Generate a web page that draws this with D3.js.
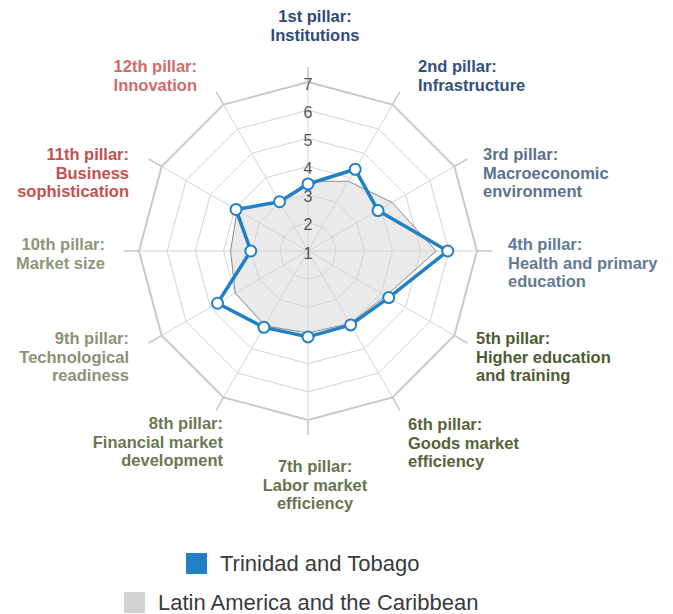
<!DOCTYPE html>
<html>
<head>
<meta charset="utf-8">
<script src="https://cdn.jsdelivr.net/npm/d3@7"></script>
<style>
  html, body { margin: 0; padding: 0; background: #fff; }
  svg { display: block; font-family: "Liberation Sans", Arial, Helvetica, sans-serif; }
</style>
</head>
<body>
<div class="radar-chart"></div>
<script>
// ---- data
var pillars = [
  ["1st pillar:", "Institutions"],
  ["2nd pillar:", "Infrastructure"],
  ["3rd pillar:", "Macroeconomic", "environment"],
  ["4th pillar:", "Health and primary", "education"],
  ["5th pillar:", "Higher education", "and training"],
  ["6th pillar:", "Goods market", "efficiency"],
  ["7th pillar:", "Labor market", "efficiency"],
  ["8th pillar:", "Financial market", "development"],
  ["9th pillar:", "Technological", "readiness"],
  ["10th pillar:", "Market size"],
  ["11th pillar:", "Business", "sophistication"],
  ["12th pillar:", "Innovation"]
];
var trinidad = [3.38, 4.35, 3.87, 5.96, 4.31, 4.03, 4.05, 4.13, 4.71, 3.03, 3.95, 3.02];
var latam    = [3.47, 3.86, 4.45, 5.55, 4.19, 3.97, 3.91, 4.07, 3.98, 3.75, 3.90, 3.00];
var ticks = [1, 2, 3, 4, 5, 6, 7];
var seriesNames = ["Trinidad and Tobago", "Latin America and the Caribbean"];

// label colours per pillar
var labelColors = ["#2f4a78", "#34507c", "#5b7191", "#637a97", "#4d5c33", "#56633b",
                   "#68734f", "#6d7753", "#8a9278", "#8e957c", "#c4504f", "#d26a6a"];

// label placement: [dx, dy (first baseline) from centre, anchor]
var labelPos = [
  [7, -229, "middle"], [110, -179, "start"], [175, -91, "start"], [200, -1, "start"],
  [168, 93, "start"], [100, 179, "start"], [7, 221, "middle"], [-85, 178, "end"],
  [-179, 93, "end"], [-203, -1, "end"], [-179, -91, "end"], [-111, -179, "end"]
];

var width = 673, height = 614;
var cx = 308, cy = 251;

var svg = d3.select(".radar-chart")
  .append("svg")
    .attr("width", width)
    .attr("height", height);

var g = svg.append("g")
  .attr("transform", "translate(" + cx + "," + cy + ")");

// radial scale: 1 at the centre, 7 on the outer ring
var r = d3.scaleLinear().domain([1, 7]).range([0, 169]);
var angle = d3.scaleLinear().domain([0, pillars.length]).range([0, 2 * Math.PI]);

function pt(i, v) {
  var a = angle(i);
  return [r(v) * Math.sin(a), -r(v) * Math.cos(a)];
}

var idx = d3.range(pillars.length);
var ringLine = d3.line().curve(d3.curveLinearClosed);

// ---- grid rings
g.selectAll(".ring")
  .data(ticks.slice(1))
  .enter()
    .append("path")
    .attr("d", function(t) { return ringLine(idx.map(function(i) { return pt(i, t); })); })
    .attr("fill", "none")
    .attr("stroke", function(t) { return t === 7 ? "#c9c9c9" : "#d4d4d4"; })
    .attr("stroke-width", function(t) { return t === 7 ? 2 : 1; });

// ---- spokes
g.selectAll(".spoke")
  .data(idx)
  .enter()
    .append("line")
    .attr("x1", 0).attr("y1", 0)
    .attr("x2", function(i) { return pt(i, 7)[0]; })
    .attr("y2", function(i) { return pt(i, 7)[1]; })
    .attr("stroke", "#d4d4d4")
    .attr("stroke-width", 1);

g.selectAll(".spoke-out")
  .data(idx)
  .enter()
    .append("line")
    .attr("x1", function(i) { return pt(i, 7)[0]; })
    .attr("y1", function(i) { return pt(i, 7)[1]; })
    .attr("x2", function(i) { return pt(i, r.invert(184))[0]; })
    .attr("y2", function(i) { return pt(i, r.invert(184))[1]; })
    .attr("stroke", "#c9c9c9")
    .attr("stroke-width", 1.6);

// ---- Latin America area
g.append("path")
  .attr("d", ringLine(latam.map(function(v, i) { return pt(i, v); })))
  .attr("fill", "#d8d8d8")
  .attr("fill-opacity", 0.55)
  .attr("stroke", "#8c8c8c")
  .attr("stroke-width", 1);

// ---- tick labels
g.selectAll(".tick-label")
  .data(ticks)
  .enter()
    .append("text")
    .attr("x", 0)
    .attr("y", function(t) { return -r(t) + 7.5; })
    .attr("text-anchor", "middle")
    .attr("font-size", 16)
    .attr("fill", "#555")
    .text(function(t) { return t; });

// ---- Trinidad line + markers
g.append("path")
  .attr("d", ringLine(trinidad.map(function(v, i) { return pt(i, v); })))
  .attr("fill", "none")
  .attr("stroke", "#2280c6")
  .attr("stroke-width", 3.5)
  .attr("stroke-linejoin", "round");

g.selectAll(".dot")
  .data(trinidad)
  .enter()
    .append("circle")
    .attr("cx", function(v, i) { return pt(i, v)[0]; })
    .attr("cy", function(v, i) { return pt(i, v)[1]; })
    .attr("r", 5.5)
    .attr("fill", "#fff")
    .attr("stroke", "#2280c6")
    .attr("stroke-width", 2);

// ---- pillar labels
var labels = g.selectAll(".pillar")
  .data(pillars)
  .enter()
    .append("text")
    .attr("text-anchor", function(d, i) { return labelPos[i][2]; })
    .attr("font-size", 16.5)
    .attr("font-weight", "bold")
    .attr("fill", function(d, i) { return labelColors[i]; });

labels.selectAll("tspan")
  .data(function(d, i) { return d.map(function(s) { return {s: s, i: i}; }); })
  .enter()
    .append("tspan")
    .attr("x", function(d) { return labelPos[d.i][0]; })
    .attr("y", function(d, k) { return labelPos[d.i][1] + k * 18.5; })
    .text(function(d) { return d.s; });

// ---- legend
var legendRows = [
  {name: seriesNames[0], color: "#2280c6", x: 186, y: 553},
  {name: seriesNames[1], color: "#d3d3d3", x: 124, y: 592}
];
var legend = svg.selectAll(".legend")
  .data(legendRows)
  .enter()
    .append("g");
legend.append("rect")
  .attr("x", function(d) { return d.x; })
  .attr("y", function(d) { return d.y; })
  .attr("width", 21).attr("height", 21)
  .attr("fill", function(d) { return d.color; });
legend.append("text")
  .attr("x", function(d) { return d.x + 34; })
  .attr("y", function(d) { return d.y + 18; })
  .attr("font-size", 22)
  .attr("fill", "#3a3a3a")
  .text(function(d) { return d.name; });
</script>
</body>
</html>
